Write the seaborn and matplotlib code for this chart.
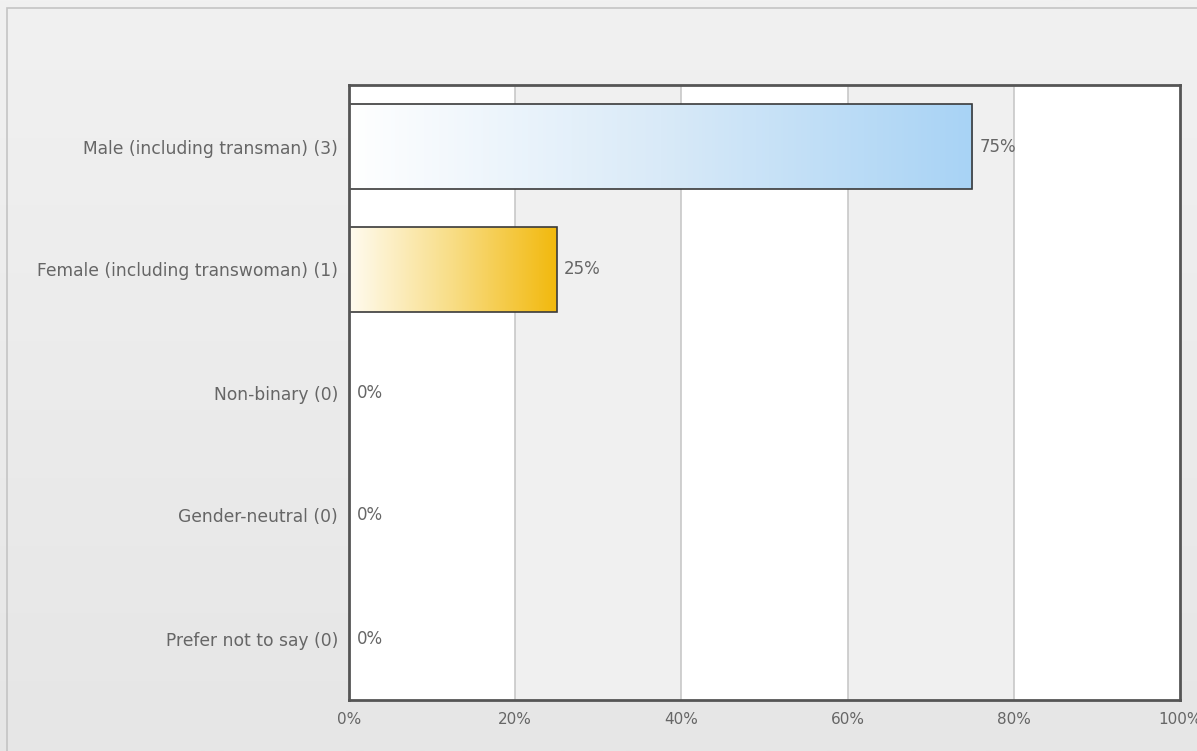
import numpy as np
import matplotlib
matplotlib.use("Agg")
import matplotlib.pyplot as plt
from matplotlib.colors import LinearSegmentedColormap
from matplotlib.patches import Rectangle
import seaborn as sns

categories = [
    "Male (including transman) (3)",
    "Female (including transwoman) (1)",
    "Non-binary (0)",
    "Gender-neutral (0)",
    "Prefer not to say (0)",
]
percentages = [75, 25, 0, 0, 0]
x_ticks = [0, 20, 40, 60, 80, 100]
x_tick_labels = ["0%", "20%", "40%", "60%", "80%", "100%"]

bar_gradients = [
    ["#ffffff", "#d9eaf8", "#a8d3f5"],
    ["#fffbf0", "#f8dd85", "#f2b90d"],
    ["#ffffff", "#d9eaf8", "#a8d3f5"],
    ["#ffffff", "#d9eaf8", "#a8d3f5"],
    ["#ffffff", "#d9eaf8", "#a8d3f5"],
]

sns.set_theme(style="white")
plt.rcParams["font.family"] = ["DejaVu Sans"]
text_color = "#666666"

W, H = 1197, 751
fig = plt.figure(figsize=(W / 100, H / 100), dpi=100)

# page background with a soft vertical gradient and a thin frame
bg = fig.add_axes([0, 0, 1, 1], zorder=-10)
bg_cmap = LinearSegmentedColormap.from_list("bg", ["#f1f1f1", "#e6e6e6"])
bg.imshow(np.linspace(0, 1, 256).reshape(-1, 1), aspect="auto", cmap=bg_cmap,
          extent=[0, 1, 0, 1], origin="upper")
bg.add_patch(Rectangle((7 / W, -0.01), 1.0, 1 - 8 / H + 0.01, transform=bg.transAxes,
                       fill=False, edgecolor="#c4c4c4", lw=1.2))
bg.set_xlim(0, 1)
bg.set_ylim(0, 1)
bg.axis("off")

ax = fig.add_axes([349 / W, 1 - 700 / H, (1180 - 349) / W, (700 - 85) / H])
ax.set_facecolor("white")

# alternating column bands and grid lines
for lo, hi in [(20, 40), (60, 80)]:
    ax.axvspan(lo, hi, color="#f0f0f0", zorder=0, lw=0)
for xv in x_ticks[1:-1]:
    ax.axvline(xv, color="#c8c8c8", lw=1.2, zorder=1)

sns.barplot(x=percentages, y=categories, orient="h", ax=ax, width=0.69,
            color="white", edgecolor="#3a3a3a", linewidth=1.2, zorder=3)
bars = ax.containers[-1]

# paint each bar with a horizontal gradient clipped to its outline
for patch, colors in zip(bars, bar_gradients):
    x0, y0 = patch.get_x(), patch.get_y()
    w, h = patch.get_width(), patch.get_height()
    if w <= 0:
        continue
    cmap = LinearSegmentedColormap.from_list("g", colors)
    im = ax.imshow(np.linspace(0, 1, 256).reshape(1, -1), aspect="auto", cmap=cmap,
                   extent=[x0, x0 + w, y0 + h, y0], zorder=2.5, interpolation="bilinear")
    im.set_clip_path(patch)
    patch.set_facecolor("none")

for i, v in enumerate(percentages):
    ax.text(v + 0.9, i, f"{v}%", va="center", ha="left", fontsize=12,
            color=text_color, zorder=5)

ax.set_xlim(0, 100)
ax.set_ylim(len(categories) - 0.5, -0.5)
ax.set_xticks(x_ticks)
ax.set_xticklabels(x_tick_labels)
ax.set_xlabel("")
ax.set_ylabel("")
ax.tick_params(axis="x", length=0, pad=9, labelsize=11, labelcolor=text_color)
ax.tick_params(axis="y", length=0, pad=8, labelsize=12.3, labelcolor=text_color)
for s in ax.spines.values():
    s.set_visible(True)
    s.set_color("#555555")
    s.set_linewidth(2)
    s.set_zorder(6)

fig.savefig("out.png", dpi=100, facecolor=fig.get_facecolor())
